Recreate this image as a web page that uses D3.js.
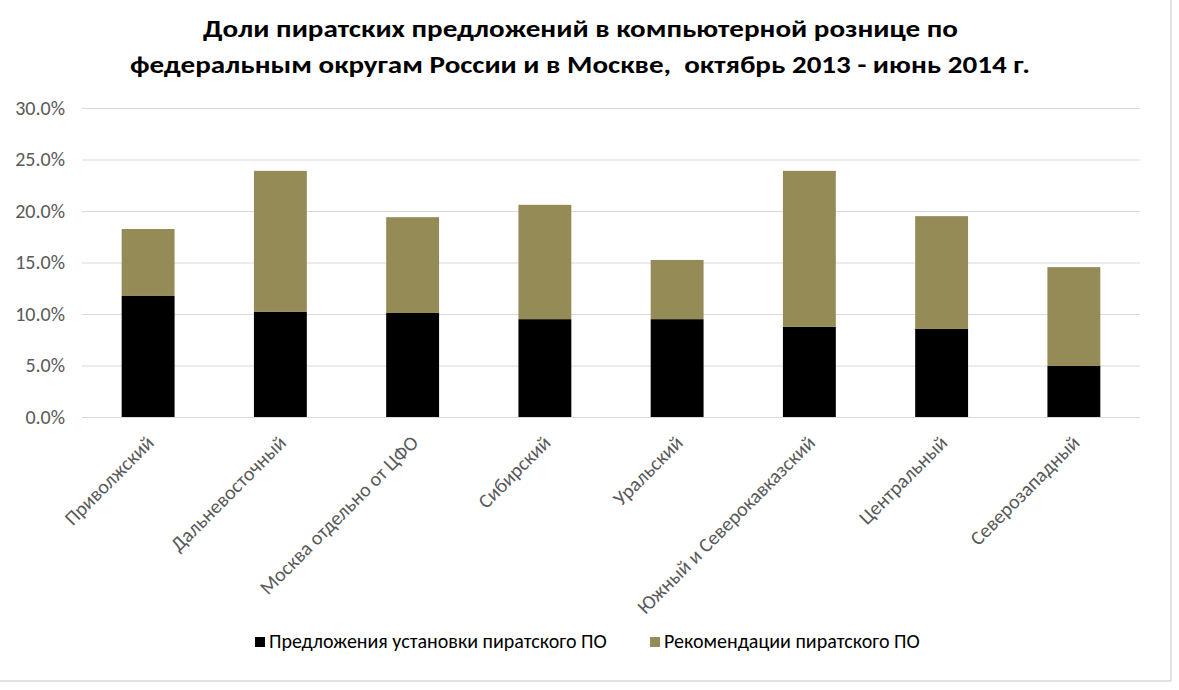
<!DOCTYPE html>
<html><head><meta charset="utf-8">
<script src="https://cdn.jsdelivr.net/npm/d3@7"></script>
<style>body{margin:0;background:#fff}svg{display:block}text{font-family:Carlito,Lato,"Open Sans","Noto Sans",sans-serif}text.title{white-space:pre}</style>
</head><body><svg id="c" width="1179" height="690"></svg>
<script>
const categories = ["Приволжский","Дальневосточный","Москва отдельно от ЦФО","Сибирский","Уральский","Южный и Северокавказский","Центральный","Северозападный"];
const installOffers = [0.1175,0.102,0.101,0.095,0.095,0.0875,0.0855,0.0495];
const recommendations = [0.065,0.137,0.093,0.111,0.0575,0.1515,0.1095,0.096];
const seriesNames = ["Предложения установки пиратского ПО","Рекомендации пиратского ПО"];
const seriesColors = ["#000000","#958B56"];
const yTicks = [0,0.05,0.10,0.15,0.20,0.25,0.30];
const titleLines = ["Доли пиратских предложений в компьютерной рознице по","федеральным округам России и в Москве,  октябрь 2013 - июнь 2014 г."];

const svg = d3.select("#c");
const m = {l:82, r:1140, t:108, b:417};
const x = d3.scaleBand().domain(categories).range([m.l, m.r]).paddingInner(0.6).paddingOuter(0.3);
const y = d3.scaleLinear().domain([0,0.30]).range([m.b, m.t]);

// border
svg.append("line").attr("x1",1171).attr("x2",1171).attr("y1",0).attr("y2",681).attr("stroke","#d9d9d9").attr("stroke-width",1.5);
svg.append("line").attr("x1",0).attr("x2",1171).attr("y1",681).attr("y2",681).attr("stroke","#d9d9d9").attr("stroke-width",1.5);

// title
svg.selectAll("text.title").data(titleLines).join("text").attr("class","title")
  .attr("x",(d,i)=> i===0?580.5:580).attr("y",(d,i)=>37+i*36)
  .attr("text-anchor","middle").attr("font-weight","bold").attr("font-size",25).attr("fill","#000")
  .attr("textLength",(d,i)=> i===0?755:900).attr("lengthAdjust","spacingAndGlyphs")
  .text(d=>d);

// grid
const yAxis = d3.axisLeft(y).tickValues(yTicks).tickFormat(d=>(d*100).toFixed(1)+"%").tickSize(-(m.r-m.l)).tickPadding(17);
const gy = svg.append("g").attr("transform",`translate(${m.l},0)`).call(yAxis);
gy.select(".domain").remove();
gy.selectAll(".tick line").attr("stroke","#d9d9d9").attr("stroke-width",1);
gy.selectAll(".tick text").attr("fill","#595959").attr("font-size",20);

// stacked bars
const rows = categories.map((c,i)=>({cat:c, a:installOffers[i], b:recommendations[i]}));
const stack = d3.stack().keys(["a","b"])(rows);
svg.append("g").selectAll("g").data(stack).join("g").attr("fill",(d,i)=>seriesColors[i])
  .selectAll("rect").data(d=>d).join("rect")
  .attr("x",d=>x(d.data.cat)).attr("width",x.bandwidth())
  .attr("y",d=>y(d[1])).attr("height",d=>y(d[0])-y(d[1]));

// x labels
const xAxis = d3.axisBottom(x).tickSize(0).tickPadding(0);
const gx = svg.append("g").attr("transform",`translate(0,${m.b})`).call(xAxis);
gx.select(".domain").remove();
gx.selectAll(".tick text").attr("fill","#595959").attr("font-size",20)
  .attr("text-anchor","end").attr("dy","0").attr("y",0)
  .attr("transform","translate(7,27) rotate(-45)");

// legend
const lg = svg.append("g");
const lx = [255, 650];
seriesNames.forEach((n,i)=>{
  lg.append("rect").attr("x",lx[i]).attr("y",637).attr("width",10).attr("height",10).attr("fill",seriesColors[i]);
  lg.append("text").attr("x",lx[i]+14).attr("y",648).attr("font-size",20).attr("fill","#000").text(n);
});
</script></body></html>
